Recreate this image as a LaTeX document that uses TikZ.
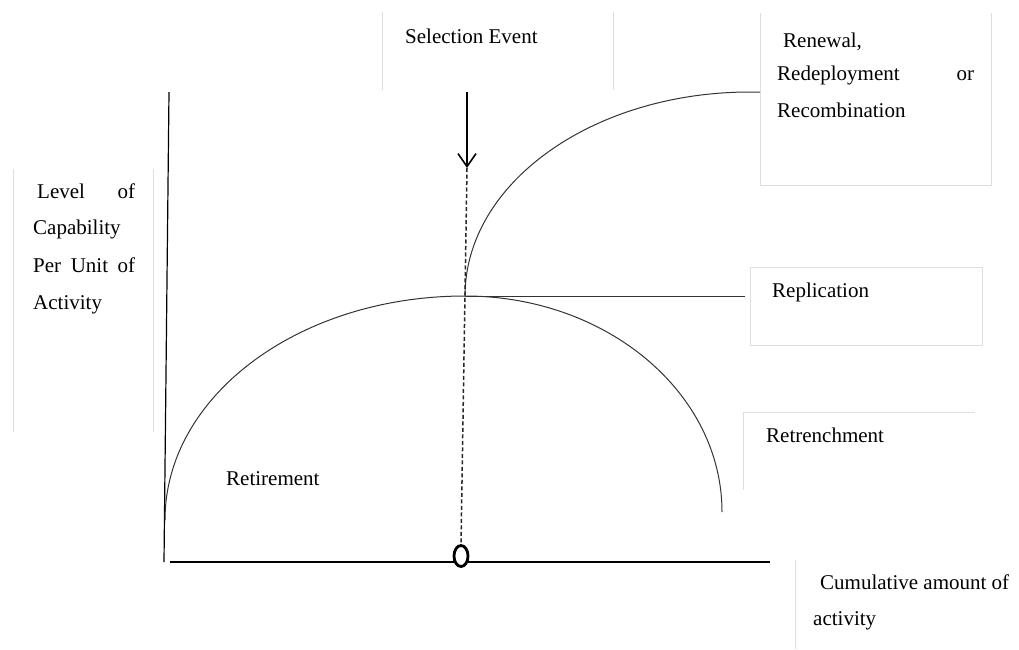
\documentclass[tikz,border=0pt]{standalone}
\usepackage{fontspec}
\setmainfont{Liberation Serif}
\usetikzlibrary{arrows.meta,shapes.geometric}
\begin{document}
\begin{tikzpicture}[x=1pt,y=-1pt,
  lbl/.style={inner sep=0pt,anchor=base west,font=\fontsize{21}{25}\selectfont},
  boxedge/.style={draw=black!13,line width=0.8pt},
  axisline/.style={draw=black,line width=1.2pt},
  curveline/.style={draw=black!80,line width=1pt},
  dashline/.style={draw=black!85,line width=1.5pt,dash pattern=on 4pt off 2.5pt}]
\useasboundingbox (0,0) rectangle (1019,649);
% faint text box edges
\draw[boxedge] (382,12) -- (382,90) (613,12) -- (613,90);
\draw[boxedge] (760,13) -- (760,185) -- (991,185) -- (991,13);
\draw[boxedge] (13,169) -- (13,432) (153,169) -- (153,432);
\draw[boxedge] (750,345) -- (750,267) -- (982,267) -- (982,345) -- cycle;
\draw[boxedge] (743,490) -- (743,412) -- (975,412);
\draw[boxedge] (795,560) -- (795,649);
% key points
\coordinate (ytop) at (169,92);
\coordinate (origin) at (164,562);
\coordinate (xstart) at (170,562);
\coordinate (xend) at (770,562);
\coordinate (archL) at (165,520);
\coordinate (peak) at (465,296);
\coordinate (archR) at (722,512);
\coordinate (upEnd) at (750,92);
\coordinate (upTip) at (760,92);
\coordinate (repEnd) at (745,296);
\coordinate (arrTop) at (467,92);
\coordinate (arrTip) at (467,168);
% axes
\draw[axisline] (ytop) -- (origin);
\draw[axisline] (xstart) -- (xend);
\node[draw,ellipse,fill=white,line width=2.8pt,minimum width=14pt,minimum height=21pt,inner sep=0pt] (zero) at (461,556) {};
% arch
\draw[curveline] (archL) .. controls (165,396) and (299,296) .. (peak)
  .. controls (607,296) and (722,393) .. (archR);
% upper curve
\draw[curveline] (peak) .. controls (465,183) and (593,92) .. (upEnd) -- (upTip);
% replication line
\draw[curveline] (peak) -- (repEnd);
% selection event arrow
\draw[line width=1.6pt,-{Straight Barb[length=13pt,width=18pt,line width=1.6pt]}] (arrTop) -- (arrTip);
\draw[dashline] (arrTip) -- (zero.north);
% labels
\node[lbl] (sel) at (405,43) {Selection Event};
\node[lbl] (ren1) at (783,47) {Renewal,};
\node[lbl] (ren2) at (777,80) {\hbox to 197pt{Redeployment\hfill or}};
\node[lbl] (ren3) at (777,117) {Recombination};
\node[lbl] (lev1) at (37,198) {\hbox to 98pt{Level\hfill of}};
\node[lbl] (lev2) at (33,234) {Capability};
\node[lbl] (lev3) at (33,272) {\hbox to 102pt{Per\hfill Unit\hfill of}};
\node[lbl] (lev4) at (33,309) {Activity};
\node[lbl] (rep) at (772,297) {Replication};
\node[lbl] (retr) at (766,442) {Retrenchment};
\node[lbl] (reti) at (226,485) {Retirement};
\node[lbl] (cum1) at (820,589) {Cumulative amount of};
\node[lbl] (cum2) at (813,625) {activity};
\end{tikzpicture}
\end{document}
